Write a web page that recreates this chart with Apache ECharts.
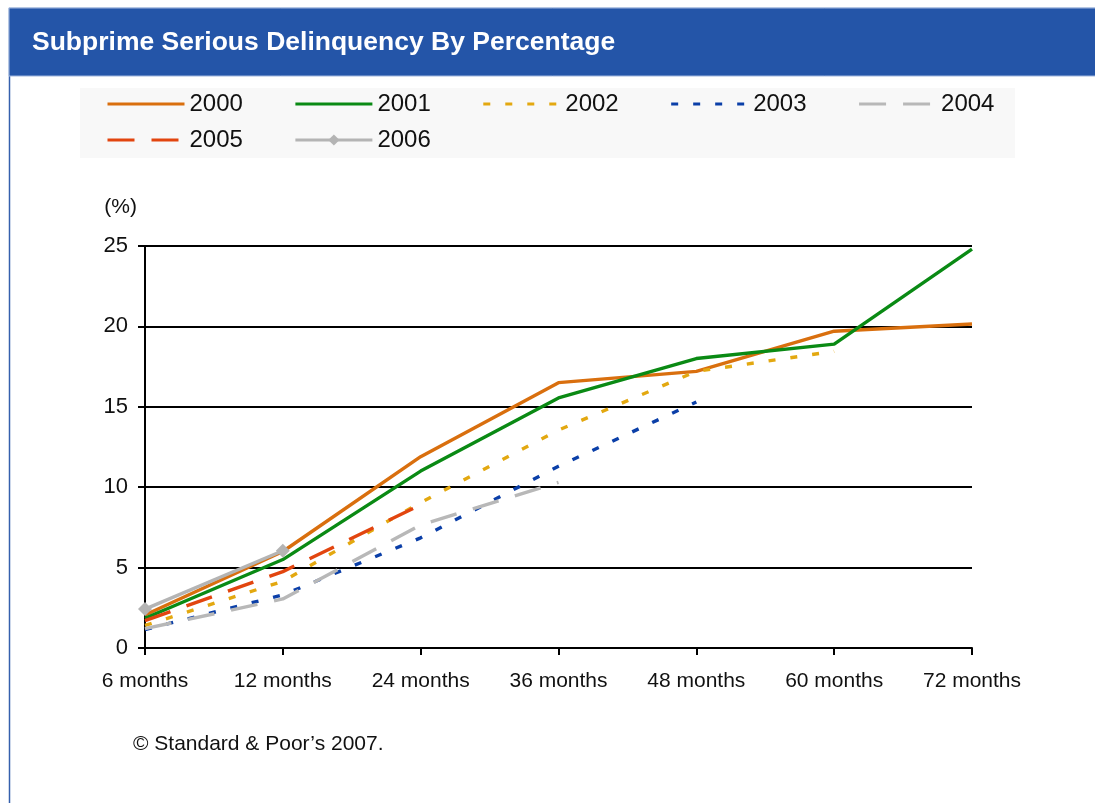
<!DOCTYPE html>
<html>
<head>
<meta charset="utf-8">
<script src="https://cdn.jsdelivr.net/npm/echarts@6/dist/echarts.min.js"></script>
<style>
  html, body { margin: 0; padding: 0; background: #ffffff; }
  #chart { width: 1095px; height: 803px; }
</style>
</head>
<body>
<div id="chart"></div>
<script>
// Months since origination
const categories = ['6 months', '12 months', '24 months', '36 months', '48 months', '60 months', '72 months'];

// Serious delinquency (%) by vintage year
const v2000 = [2.05, 6.0, 11.9, 16.5, 17.2, 19.7, 20.15];
const v2001 = [1.85, 5.5, 11.0, 15.55, 18.0, 18.9, 24.8];
const v2002 = [1.4, 4.15, 9.05, 13.55, 17.2, 18.45, null];
const v2003 = [1.15, 3.3, 6.85, 11.3, 15.3, null, null];
const v2004 = [1.2, 3.05, 7.65, 10.3, null, null, null];
const v2005 = [1.7, 4.75, 8.9, null, null, null, null];
const v2006 = [2.42, 6.05, null, null, null, null, null];

const yTicks = [0, 5, 10, 15, 20, 25];

const FONT = '"Liberation Sans", Arial, sans-serif';
const dashLong = [27, 17];
const dotted = [7, 15];

function lineSeries(name, data, color, type, extra) {
  return Object.assign({
    name: name,
    type: 'line',
    data: data,
    symbol: 'none',
    connectNulls: false,
    animation: false,
    lineStyle: { color: color, width: 3.4, type: type, cap: 'butt' },
    itemStyle: { color: color },
    emphasis: { disabled: true }
  }, extra || {});
}

// legend entries: plain line swatch, no marker unless the series has one
function plainItem(name) {
  return { name: name, itemStyle: { opacity: 0, borderWidth: 0 } };
}

const legendCommon = {
  left: 106, padding: 0,
  itemWidth: 77, itemHeight: 14, itemGap: 51,
  selectedMode: false,
  lineStyle: { width: 3 },
  textStyle: { fontSize: 24, fontFamily: FONT, color: '#111111', lineHeight: 26 }
};

const chart = echarts.init(document.getElementById('chart'), null, { renderer: 'canvas' });

chart.setOption({
  backgroundColor: '#ffffff',
  animation: false,
  title: {
    text: 'Subprime Serious Delinquency By Percentage',
    left: 32,
    top: 29,
    padding: 0,
    textStyle: { color: '#ffffff', fontSize: 26.5, fontWeight: 'bold', fontFamily: FONT, lineHeight: 28 }
  },
  graphic: [
    // page frame
    { type: 'rect', z: -10, shape: { x: 9.5, y: 8.5, width: 1100, height: 800 },
      style: { fill: '#ffffff', stroke: '#3560ad', lineWidth: 1.5 } },
    // title bar
    { type: 'rect', z: -9, shape: { x: 9, y: 8, width: 1090, height: 68 },
      style: { fill: '#2455a8', stroke: '#9fb6de', lineWidth: 1 } },
    // legend panel
    { type: 'rect', z: -8, shape: { x: 80, y: 88, width: 935, height: 70 },
      style: { fill: '#f8f8f8' } },
    // source note
    { type: 'text', left: 133, top: 734,
      style: { text: '\u00a9 Standard & Poor\u2019s 2007.', fill: '#111111', font: '21px ' + FONT } }
  ],
  legend: [
    Object.assign({}, legendCommon, {
      top: 91,
      data: ['2000', '2001', '2002', '2003', '2004'].map(plainItem)
    }),
    Object.assign({}, legendCommon, {
      top: 127,
      data: [plainItem('2005'), { name: '2006' }]
    })
  ],
  grid: { left: 145, right: 123, top: 246, bottom: 155, outerBoundsMode: 'none', containLabel: false },
  xAxis: {
    type: 'category',
    data: categories,
    boundaryGap: false,
    axisLine: { show: true, lineStyle: { color: '#000000', width: 2 } },
    axisTick: { show: true, alignWithLabel: true, length: 7, lineStyle: { color: '#000000', width: 2 } },
    axisLabel: { color: '#111111', fontSize: 21, fontFamily: FONT, margin: 23, interval: 0 },
    splitLine: { show: false }
  },
  yAxis: {
    type: 'value',
    min: yTicks[0],
    max: yTicks[yTicks.length - 1],
    interval: 5,
    name: '(%)',
    nameLocation: 'end',
    nameGap: 39,
    nameTextStyle: { color: '#111111', fontSize: 21, fontFamily: FONT, align: 'right', verticalAlign: 'middle', padding: [0, 8, 0, 0] },
    axisLine: { show: true, lineStyle: { color: '#000000', width: 2 } },
    axisTick: { show: true, inside: false, length: 7, lineStyle: { color: '#000000', width: 2 } },
    axisLabel: { color: '#111111', fontSize: 22, fontFamily: FONT, margin: 17 },
    splitLine: { show: true, lineStyle: { color: '#000000', width: 2 } }
  },
  series: [
    lineSeries('2000', v2000, '#d96f0e', 'solid'),
    lineSeries('2001', v2001, '#0a8a14', 'solid'),
    lineSeries('2002', v2002, '#e3a810', dotted),
    lineSeries('2003', v2003, '#0b3fa8', dotted),
    lineSeries('2004', v2004, '#b8b8b8', dashLong),
    lineSeries('2005', v2005, '#e2450f', dashLong),
    lineSeries('2006', v2006, '#b4b4b4', 'solid', { symbol: 'diamond', symbolSize: 14, showSymbol: true })
  ]
});
</script>
</body>
</html>
